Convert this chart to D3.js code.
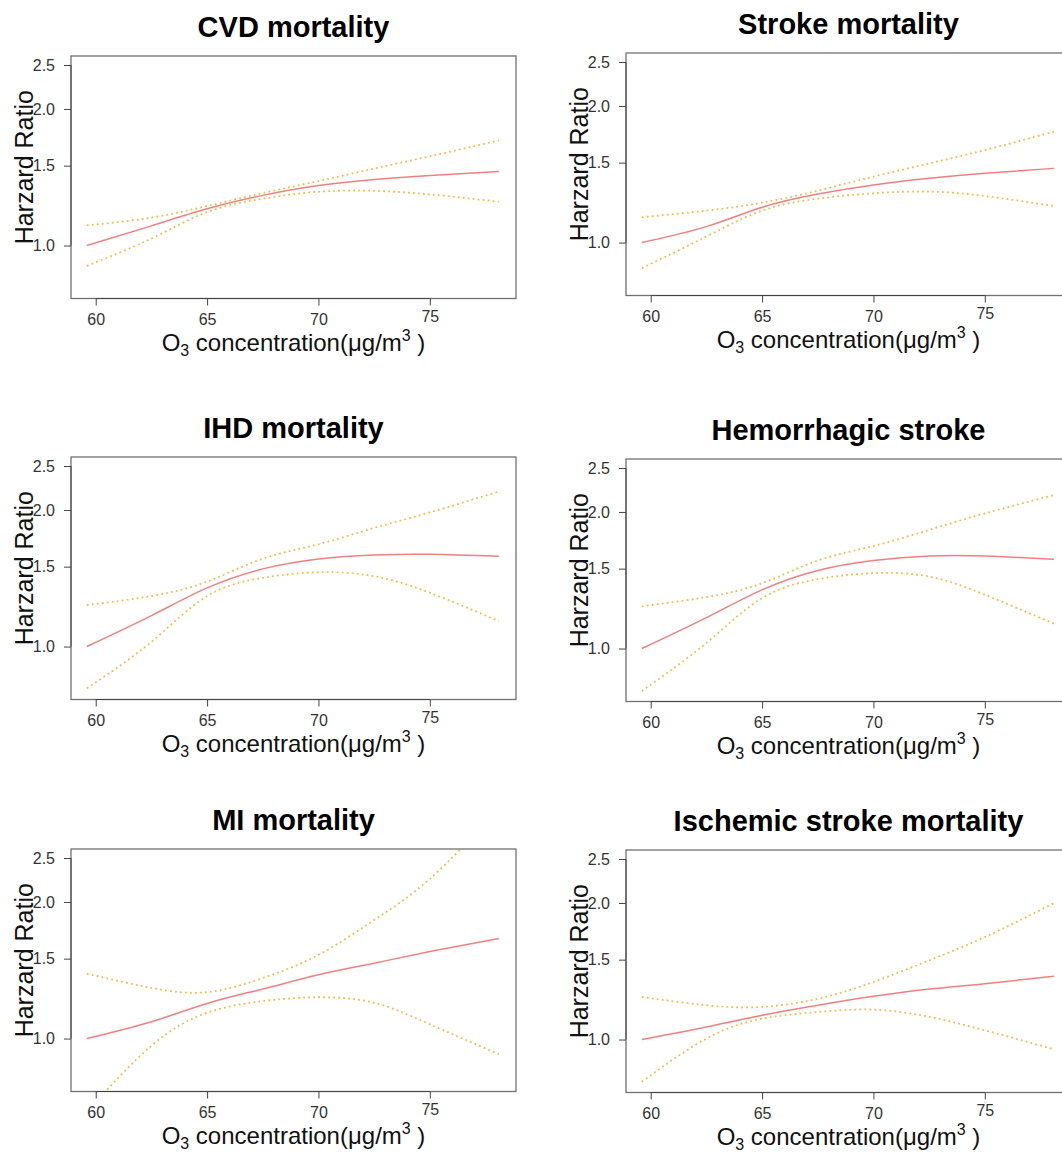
<!DOCTYPE html>
<html>
<head>
<meta charset="utf-8">
<script src="https://cdn.jsdelivr.net/npm/d3@7"></script>
<style>
  body { margin: 0; background: #fff; }
  svg { display: block; font-family: "Liberation Sans", Arial, sans-serif; }
</style>
</head>
<body>
<svg id="chart" width="1062" height="1152"></svg>
<script>
"use strict";

const xs = [59.6, 62.5, 65, 67.5, 70, 72.5, 75, 78.1];
const titles = ["CVD mortality", "Stroke mortality", "IHD mortality",
                "Hemorrhagic stroke", "MI mortality", "Ischemic stroke mortality"];
const xTicks = [60, 65, 70, 75];
const yTicks = [1.0, 1.5, 2.0, 2.5];

const cvdFit   = [1.0, 1.105, 1.205, 1.29, 1.356, 1.398, 1.427, 1.456];
const cvdUpper = [1.108, 1.152, 1.222, 1.305, 1.387, 1.478, 1.573, 1.705];
const cvdLower = [0.902, 1.036, 1.185, 1.268, 1.314, 1.32, 1.296, 1.249];

const strokeFit   = [1.0, 1.084, 1.196, 1.279, 1.339, 1.385, 1.421, 1.457];
const strokeUpper = [1.137, 1.176, 1.224, 1.301, 1.397, 1.494, 1.599, 1.755];
const strokeLower = [0.878, 1.031, 1.176, 1.249, 1.284, 1.295, 1.266, 1.204];

const ihdFit   = [1.0, 1.17, 1.347, 1.483, 1.56, 1.592, 1.597, 1.581];
const ihdUpper = [1.234, 1.292, 1.39, 1.562, 1.68, 1.826, 1.975, 2.197];
const ihdLower = [0.809, 1.024, 1.292, 1.417, 1.458, 1.429, 1.314, 1.138];

const hemFit   = [1.0, 1.17, 1.347, 1.486, 1.563, 1.6, 1.6, 1.573];
const hemUpper = [1.239, 1.298, 1.393, 1.563, 1.683, 1.826, 1.985, 2.178];
const hemLower = [0.806, 1.029, 1.292, 1.422, 1.466, 1.441, 1.314, 1.135];

const miFit   = [1.0, 1.089, 1.195, 1.286, 1.382, 1.466, 1.555, 1.662];
const miUpper = [1.39, 1.293, 1.265, 1.359, 1.529, 1.824, 2.249, 3.2];
const miLower = [0.69, 0.964, 1.14, 1.209, 1.233, 1.199, 1.075, 0.924];

const ischFit   = [1.0, 1.066, 1.131, 1.19, 1.245, 1.292, 1.328, 1.378];
const ischUpper = [1.241, 1.19, 1.18, 1.23, 1.339, 1.494, 1.682, 1.997];
const ischLower = [0.807, 1.005, 1.112, 1.15, 1.164, 1.122, 1.048, 0.952];

const fits   = [cvdFit, strokeFit, ihdFit, hemFit, miFit, ischFit];
const uppers = [cvdUpper, strokeUpper, ihdUpper, hemUpper, miUpper, ischUpper];
const lowers = [cvdLower, strokeLower, ihdLower, hemLower, miLower, ischLower];

// panel frames (the right column runs off the edge, as in the original)
const panelLeft = [71, 626, 71, 626, 71, 626];
const panelTop  = [56, 53, 457, 459, 849, 850];
const w = 445, h = 242.5;

const x = d3.scaleLinear().domain([58.89, 78.87]).range([0, w]);
const y = d3.scaleLog().domain([0.7643, 2.6167]).range([h, 0]);

const line = d3.line()
  .x((d, i) => x(xs[i]))
  .y(d => y(d))
  .curve(d3.curveNatural);

const svg = d3.select("#chart");

titles.forEach((title, p) => {
  const g = svg.append("g")
    .attr("transform", `translate(${panelLeft[p]},${panelTop[p]})`);

  g.append("clipPath").attr("id", "clip" + p)
    .append("rect").attr("width", w).attr("height", h);

  const plot = g.append("g").attr("clip-path", `url(#clip${p})`);

  [uppers[p], lowers[p]].forEach(s => {
    plot.append("path")
      .attr("d", line(s))
      .attr("fill", "none")
      .attr("stroke", "#f5bb48")
      .attr("stroke-width", 1.8)
      .attr("stroke-dasharray", "1.8 3.2");
  });

  plot.append("path")
    .attr("d", line(fits[p]))
    .attr("fill", "none")
    .attr("stroke", "#f08080")
    .attr("stroke-width", 1.5);

  // frame
  g.append("rect")
    .attr("width", w).attr("height", h)
    .attr("fill", "none")
    .attr("stroke", "#707070")
    .attr("stroke-width", 1.3);

  const xAxis = g.append("g")
    .attr("transform", `translate(0,${h})`)
    .call(d3.axisBottom(x).tickValues(xTicks).tickSize(7).tickPadding(8));
  xAxis.append("line")
    .attr("x1", x(xTicks[0])).attr("x2", x(xTicks[xTicks.length - 1]))
    .attr("stroke", "#444");

  const yAxis = g.append("g")
    .call(d3.axisLeft(y).tickValues(yTicks).tickFormat(d3.format(".1f"))
      .tickSize(7).tickPadding(9));
  yAxis.append("line")
    .attr("y1", y(yTicks[0])).attr("y2", y(yTicks[yTicks.length - 1]))
    .attr("stroke", "#444");

  [xAxis, yAxis].forEach(a => {
    a.select(".domain").remove();
    a.attr("font-family", null).attr("font-size", null);
    a.selectAll(".tick line").attr("stroke", "#444");
    a.selectAll(".tick text")
      .attr("fill", "#333")
      .style("font-size", "16px");
  });
  // the 75 label sits a little high in the source figure
  xAxis.selectAll(".tick text").attr("y", d => d === 75 ? 12.5 : 15);

  g.append("text")
    .attr("x", w / 2).attr("y", -19.5)
    .attr("text-anchor", "middle")
    .style("font-size", "29px")
    .style("font-weight", "bold")
    .attr("fill", "#000")
    .text(title);

  g.append("text")
    .attr("transform", `translate(-38,${h / 2 - 10}) rotate(-90)`)
    .attr("text-anchor", "middle")
    .style("font-size", "25px")
    .attr("fill", "#111")
    .text("Harzard Ratio");

  const xl = g.append("text")
    .attr("x", w / 2).attr("y", h + 52.5)
    .attr("text-anchor", "middle")
    .style("font-size", "24px")
    .attr("fill", "#111");
  xl.append("tspan").text("O");
  xl.append("tspan").attr("dy", 5).style("font-size", "16px").text("3");
  xl.append("tspan").attr("dy", -5).text(" concentration(\u03bcg/m");
  xl.append("tspan").attr("dy", -10).style("font-size", "16px").text("3");
  xl.append("tspan").attr("dy", 10).text(" )");
});
</script>
</body>
</html>
